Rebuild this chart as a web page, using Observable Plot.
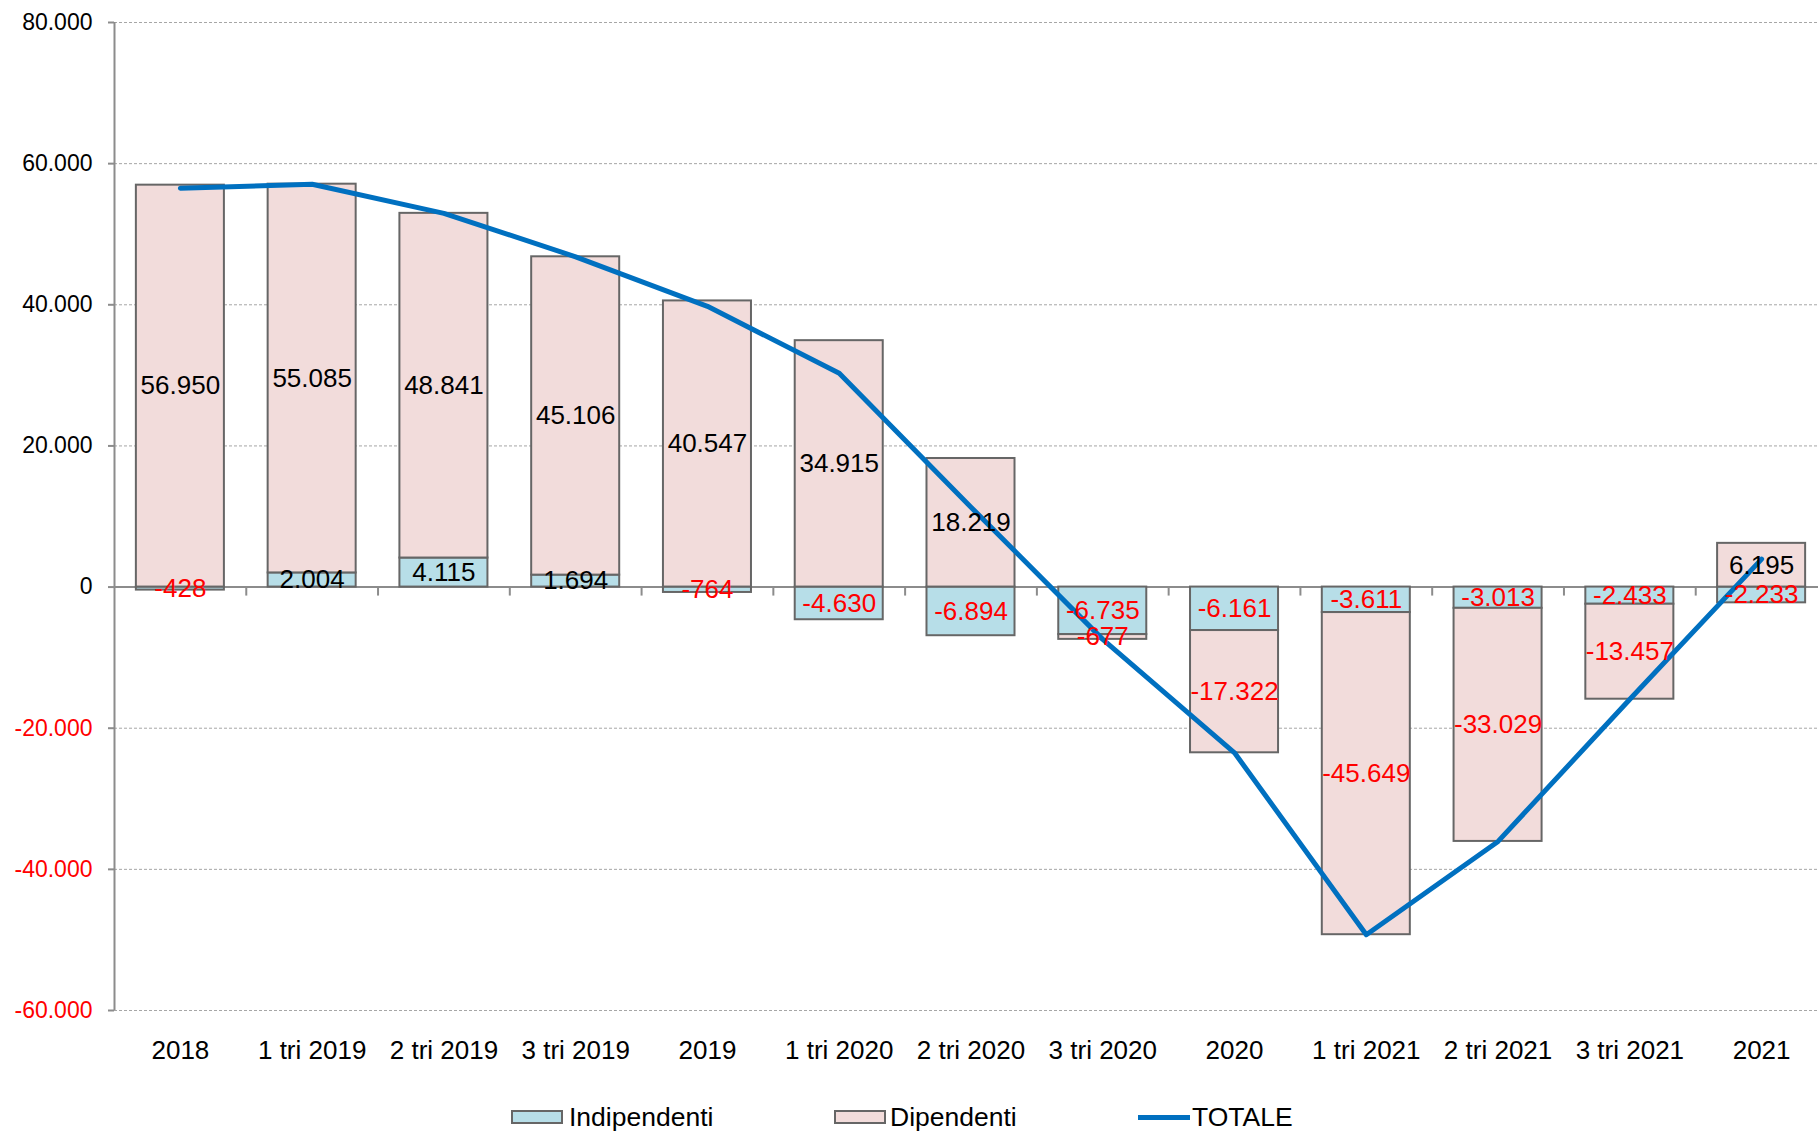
<!DOCTYPE html>
<html><head><meta charset="utf-8">
<script src="https://cdn.jsdelivr.net/npm/d3@7"></script>
<script src="https://cdn.jsdelivr.net/npm/@observablehq/plot@0.6"></script>
<style>
html,body{margin:0;padding:0;background:#fff;overflow:hidden;}
#chart{position:relative;width:1818px;height:1132px;font-family:"Liberation Sans",Arial,sans-serif;}
.sw{position:absolute;box-sizing:border-box;}
.lt{position:absolute;font-size:26.5px;line-height:26px;color:#000;white-space:nowrap;}
</style></head><body><div id="chart"></div>
<script>
const categorie = ["2018","1 tri 2019","2 tri 2019","3 tri 2019","2019","1 tri 2020","2 tri 2020","3 tri 2020","2020","1 tri 2021","2 tri 2021","3 tri 2021","2021"];
const indipendenti = [-428, 2004, 4115, 1694, -764, -4630, -6894, -6735, -6161, -3611, -3013, -2433, -2233];
const dipendenti = [56950, 55085, 48841, 45106, 40547, 34915, 18219, -677, -17322, -45649, -33029, -13457, 6195];
const totale = [56522, 57089, 52956, 46800, 39783, 30285, 11325, -7412, -23483, -49260, -36042, -15890, 3962];
const yTicks = [-60000, -40000, -20000, 0, 20000, 40000, 60000, 80000];
const yDomain = [-60000, 80000];

const colori = {Indipendenti: "#b7dee8", Dipendenti: "#f2dcdb"};
const fmt = d3.formatLocale({decimal: ",", thousands: ".", grouping: [3], currency: ["", ""], minus: "-"}).format(",d");

const rows = [];
categorie.forEach((c, i) => rows.push({cat: c, serie: "Indipendenti", v: indipendenti[i]}));
categorie.forEach((c, i) => rows.push({cat: c, serie: "Dipendenti", v: dipendenti[i]}));
const linea = categorie.map((c, i) => ({cat: c, v: totale[i]}));

const W = 1818, H = 1070, ML = 114, MT = 22, MB = 60, MR = -9;
const step = (W - MR - ML) / categorie.length;
const grey = "#8c8c8c";

const plot = Plot.plot({
  width: W, height: H, marginLeft: ML, marginTop: MT, marginBottom: MB, marginRight: MR,
  style: {fontFamily: "Liberation Sans, Arial, sans-serif", background: "transparent", overflow: "visible"},
  x: {type: "band", domain: categorie, paddingInner: 0.332, paddingOuter: 0.166, round: false, label: null},
  y: {domain: yDomain, label: null},
  color: {type: "identity"},
  marks: [
    Plot.gridY({ticks: yTicks, stroke: "#a6a6a6", strokeOpacity: 1, strokeDasharray: "3,2", strokeWidth: 1}),
    Plot.ruleY([0], {stroke: grey, strokeWidth: 2}),
    Plot.ruleX(categorie.slice(1), {x: d => d, y1: 0, y2: 0, insetBottom: -9, dx: -step / 2, stroke: grey, strokeWidth: 2}),
    Plot.ruleX([categorie[0]], {x: d => d, y1: yDomain[0], y2: yDomain[1], dx: -step / 2, stroke: grey, strokeWidth: 2}),
    Plot.barY(rows, Plot.stackY({x: "cat", y: "v", z: "serie", fill: d => colori[d.serie], stroke: "#666666", strokeWidth: 2})),
    Plot.line(linea, {x: "cat", y: "v", stroke: "#0070c0", strokeWidth: 5}),
    Plot.text(rows, Plot.stackY({x: "cat", y: "v", z: "serie", text: d => fmt(d.v), fill: d => d.v < 0 ? "#ff0000" : "#000000", fontSize: 26})),
    Plot.axisY({ticks: yTicks.filter(t => t >= 0), tickFormat: fmt, fontSize: 23, tickSize: 6, tickPadding: 16, stroke: grey, strokeWidth: 2, fill: "#000000"}),
    Plot.axisY({ticks: yTicks.filter(t => t < 0), tickFormat: fmt, fontSize: 23, tickSize: 6, tickPadding: 16, stroke: grey, strokeWidth: 2, fill: "#ff0000"}),
    Plot.axisX({tickSize: 0, tickPadding: 30, fontSize: 26, fill: "#000000"})
  ]
});
const chart = document.getElementById("chart");
chart.appendChild(plot);

// legend
const legenda = [
  {label: "Indipendenti", kind: "box", color: colori.Indipendenti, x: 511, tx: 569},
  {label: "Dipendenti", kind: "box", color: colori.Dipendenti, x: 834, tx: 890},
  {label: "TOTALE", kind: "line", color: "#0070c0", x: 1138, tx: 1192}
];
const cy = 1117;
for (const l of legenda) {
  const s = document.createElement("div");
  s.className = "sw";
  if (l.kind === "box") {
    Object.assign(s.style, {left: l.x + "px", top: (cy - 7) + "px", width: "52px", height: "14px", background: l.color, border: "2px solid #666"});
  } else {
    Object.assign(s.style, {left: l.x + "px", top: (cy - 2.5) + "px", width: "52px", height: "5px", background: l.color});
  }
  chart.appendChild(s);
  const t = document.createElement("div");
  t.className = "lt";
  t.textContent = l.label;
  Object.assign(t.style, {left: l.tx + "px", top: (cy - 13) + "px"});
  chart.appendChild(t);
}
</script></body></html>
